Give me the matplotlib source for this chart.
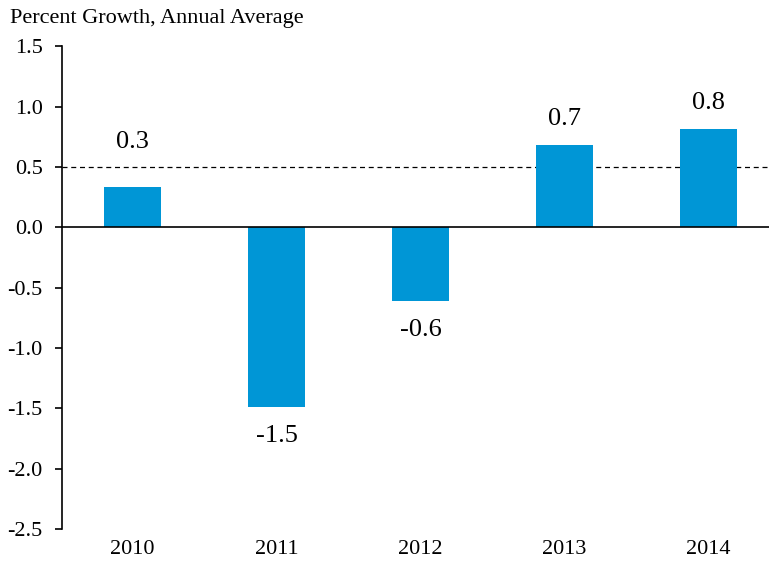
import matplotlib.pyplot as plt

years = ['2010', '2011', '2012', '2013', '2014']
growth = [0.33, -1.49, -0.61, 0.68, 0.81]
labels = ['0.3', '-1.5', '-0.6', '0.7', '0.8']
label_offsets = [33, -21, -21, 19, 19]  # points above/below bar end

plt.rcParams['font.family'] = ['Liberation Serif', 'DejaVu Serif']

fig = plt.figure(figsize=(7.69, 5.63), dpi=100)
ax = fig.add_axes([0.0806, 0.0604, 0.9194, 0.8576])

x = range(len(years))
ax.bar(x, growth, width=0.4, color='#0096d6', zorder=2)
ax.axhline(0, color='black', lw=1.2, zorder=3)
ax.axhline(0.5, color='black', lw=0.9, ls=(0, (4, 3)), zorder=1)

for i, (v, t, off) in enumerate(zip(growth, labels, label_offsets)):
    ax.annotate(t, (i, v), xytext=(0, off), textcoords='offset points',
                ha='center', va='center', fontsize=19)

ax.set_ylim(-2.5, 1.5)
ax.set_yticks([-2.5, -2.0, -1.5, -1.0, -0.5, 0.0, 0.5, 1.0, 1.5])
ax.set_yticklabels(['-2.5', '-2.0', '-1.5', '-1.0', '-0.5', '0.0', '0.5', '1.0', '1.5'])
ax.set_xlim(-0.49, 4.42)
ax.set_xticks(list(x))
ax.set_xticklabels(years)

for s in ['top', 'right', 'bottom']:
    ax.spines[s].set_visible(False)
ax.spines['left'].set_linewidth(1.2)
ax.tick_params(axis='y', direction='out', length=5, width=1.2, labelsize=16, pad=9)
ax.tick_params(axis='x', length=0, labelsize=16, pad=8)

fig.text(0.013, 0.968, 'Percent Growth, Annual Average', fontsize=16, va='center', ha='left')

fig.savefig('out.png', dpi=100)
